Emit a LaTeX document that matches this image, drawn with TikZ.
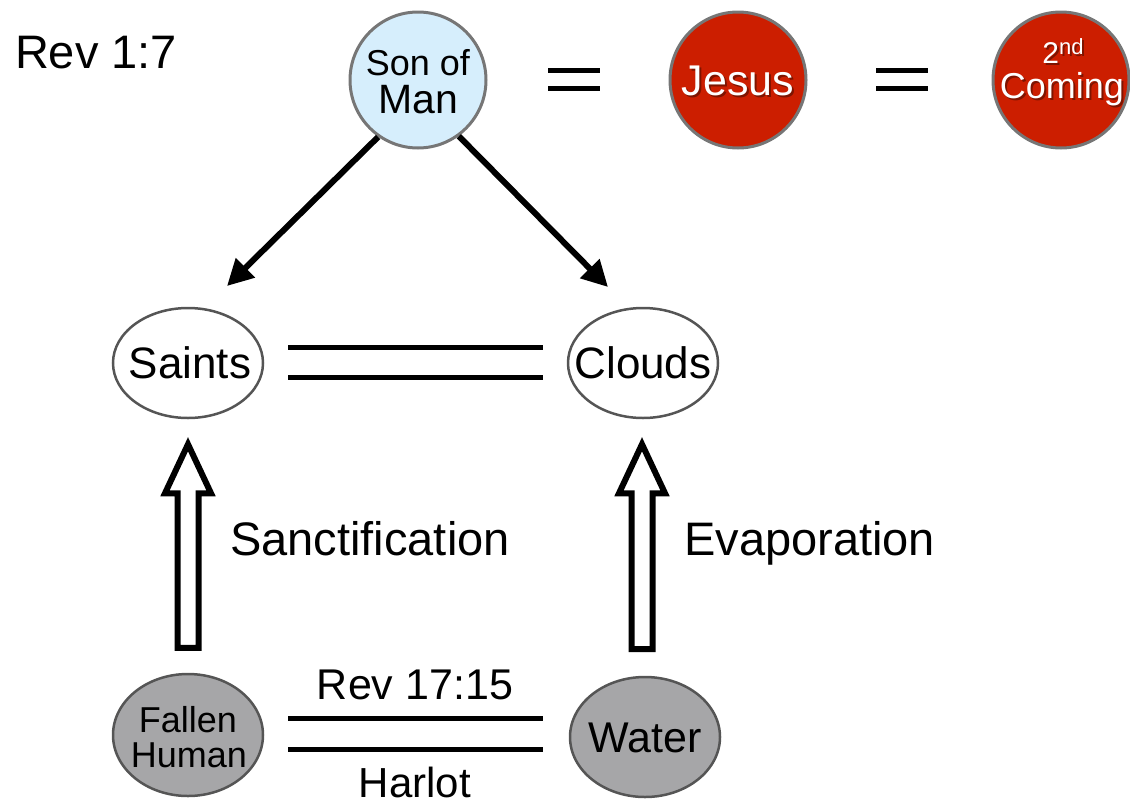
\documentclass[tikz,border=0pt]{standalone}
\usepackage{fontspec}
\setmainfont{Liberation Sans}
\usetikzlibrary{arrows.meta,calc,shapes.geometric}
\definecolor{skyfill}{HTML}{D6EEFC}
\definecolor{redfill}{HTML}{CC1E00}
\definecolor{redshadow}{HTML}{7E1400}
\definecolor{ringgray}{HTML}{767676}
\definecolor{fallgray}{HTML}{A6A6A8}
\definecolor{darkring}{HTML}{555555}
\newcommand{\fsz}[1]{\fontsize{#1}{#1}\selectfont}
\newcommand{\shadowed}[1]{\makebox[0pt][l]{\hspace{2pt}\raisebox{-2.5pt}{\color{redshadow}#1}}#1}
\begin{document}
\begin{tikzpicture}[x=1pt,y=-1pt,
  ring/.style={circle,draw=ringgray,line width=3pt,minimum size=136pt,inner sep=0pt},
  oval/.style={ellipse,draw=darkring,line width=2.5pt,inner sep=0pt,minimum width=150pt},
  txt/.style={anchor=base,inner sep=0pt},
  wtxt/.style={txt,text=white},
  bar/.style={line width=5pt},
  arr/.style={line width=6pt,-{Triangle[length=26pt,width=26pt]}},
  hollow/.style={line width=6pt,miter limit=10,line join=miter,fill=white}]
\useasboundingbox (0,0) rectangle (1130,801);

% top row
\node[txt] (rev17) at (96,68) {\fsz{47}Rev 1:7};

\node[ring,fill=skyfill] (som) at (418,80) {};
\node[txt] (somA) at (418,75) {\fsz{36}Son of};
\node[txt] (somB) at (418,113) {\fsz{41}Man};

\node[ring,fill=redfill] (jesus) at (738,80) {};
\node[wtxt] (jesusT) at (738,95) {\fsz{43}\shadowed{Jesus}};

\node[ring,fill=redfill] (second) at (1061,80) {};
\node[wtxt] (secA) at (1063,63) {\fsz{30}\shadowed{2}\raisebox{9pt}{\fsz{22}\shadowed{nd}}};
\node[wtxt] (secB) at (1062,98) {\fsz{36}\shadowed{Coming}};

\coordinate (eqA) at (574,79);
\draw[bar] ($(eqA)+(-26,-9)$) -- ($(eqA)+(26,-9)$);
\draw[bar] ($(eqA)+(-26,9)$) -- ($(eqA)+(26,9)$);
\coordinate (eqB) at (902,79);
\draw[bar] ($(eqB)+(-26,-9)$) -- ($(eqB)+(26,-9)$);
\draw[bar] ($(eqB)+(-26,9)$) -- ($(eqB)+(26,9)$);

% middle row
\node[oval,fill=white,minimum height=110pt] (saints) at (188,363) {};
\node[txt] (saintsT) at (190,378) {\fsz{44}Saints};
\node[oval,fill=white,minimum height=110pt] (clouds) at (643,363) {};
\node[txt] (cloudsT) at (643,378) {\fsz{44}Clouds};

\draw[bar] ($(saints.east)+(24,-16)$) -- ($(clouds.west)+(-24,-16)$);
\draw[bar] ($(saints.east)+(24,14)$) -- ($(clouds.west)+(-24,14)$);

\coordinate (saintsTip) at ($(saints.center)+(39,-77)$);
\coordinate (cloudsTip) at ($(clouds.center)+(-35,-76)$);
\draw[arr] (som.235) -- (saintsTip);
\draw[arr] (som.306) -- (cloudsTip);

% bottom row
\node[oval,fill=fallgray,minimum height=122pt] (fh) at (188,735) {};
\node[txt] (fhA) at (188,732) {\fsz{36}Fallen};
\node[txt] (fhB) at (189,767) {\fsz{36}Human};
\node[oval,fill=fallgray,minimum height=120pt] (water) at (645,737) {};
\node[txt] (waterT) at (645,752) {\fsz{43}Water};

\draw[bar] ($(fh.east)+(24,-17)$) -- ($(water.west)+(-26,-19)$);
\draw[bar] ($(fh.east)+(24,14)$) -- ($(water.west)+(-26,12)$);
\node[txt] (revB) at (415,699) {\fsz{43}Rev 17:15};
\node[txt] (harlot) at (415,797) {\fsz{42}Harlot};

% hollow arrows
\coordinate (h1b) at ($(fh.north)+(0,-25)$);
\coordinate (h1t) at ($(saints.south)+(0,25)$);
\draw[hollow] ($(h1b)+(-10.5,0)$) -- ($(h1t)+(-10.5,49)$) -- ($(h1t)+(-23,49)$) -- (h1t)
  -- ($(h1t)+(23,49)$) -- ($(h1t)+(10.5,49)$) -- ($(h1b)+(10.5,0)$) -- cycle;
\coordinate (h2b) at (642,649);
\coordinate (h2t) at ($(clouds.south)+(-1,25)$);
\draw[hollow] ($(h2b)+(-10.5,0)$) -- ($(h2t)+(-10.5,49)$) -- ($(h2t)+(-23,49)$) -- (h2t)
  -- ($(h2t)+(23,49)$) -- ($(h2t)+(10.5,49)$) -- ($(h2b)+(10.5,0)$) -- cycle;

\node[txt,anchor=base west] (sanct) at (230,555) {\fsz{47}Sanctification};
\node[txt,anchor=base west] (evap) at (684,555) {\fsz{47}Evaporation};
\end{tikzpicture}
\end{document}
